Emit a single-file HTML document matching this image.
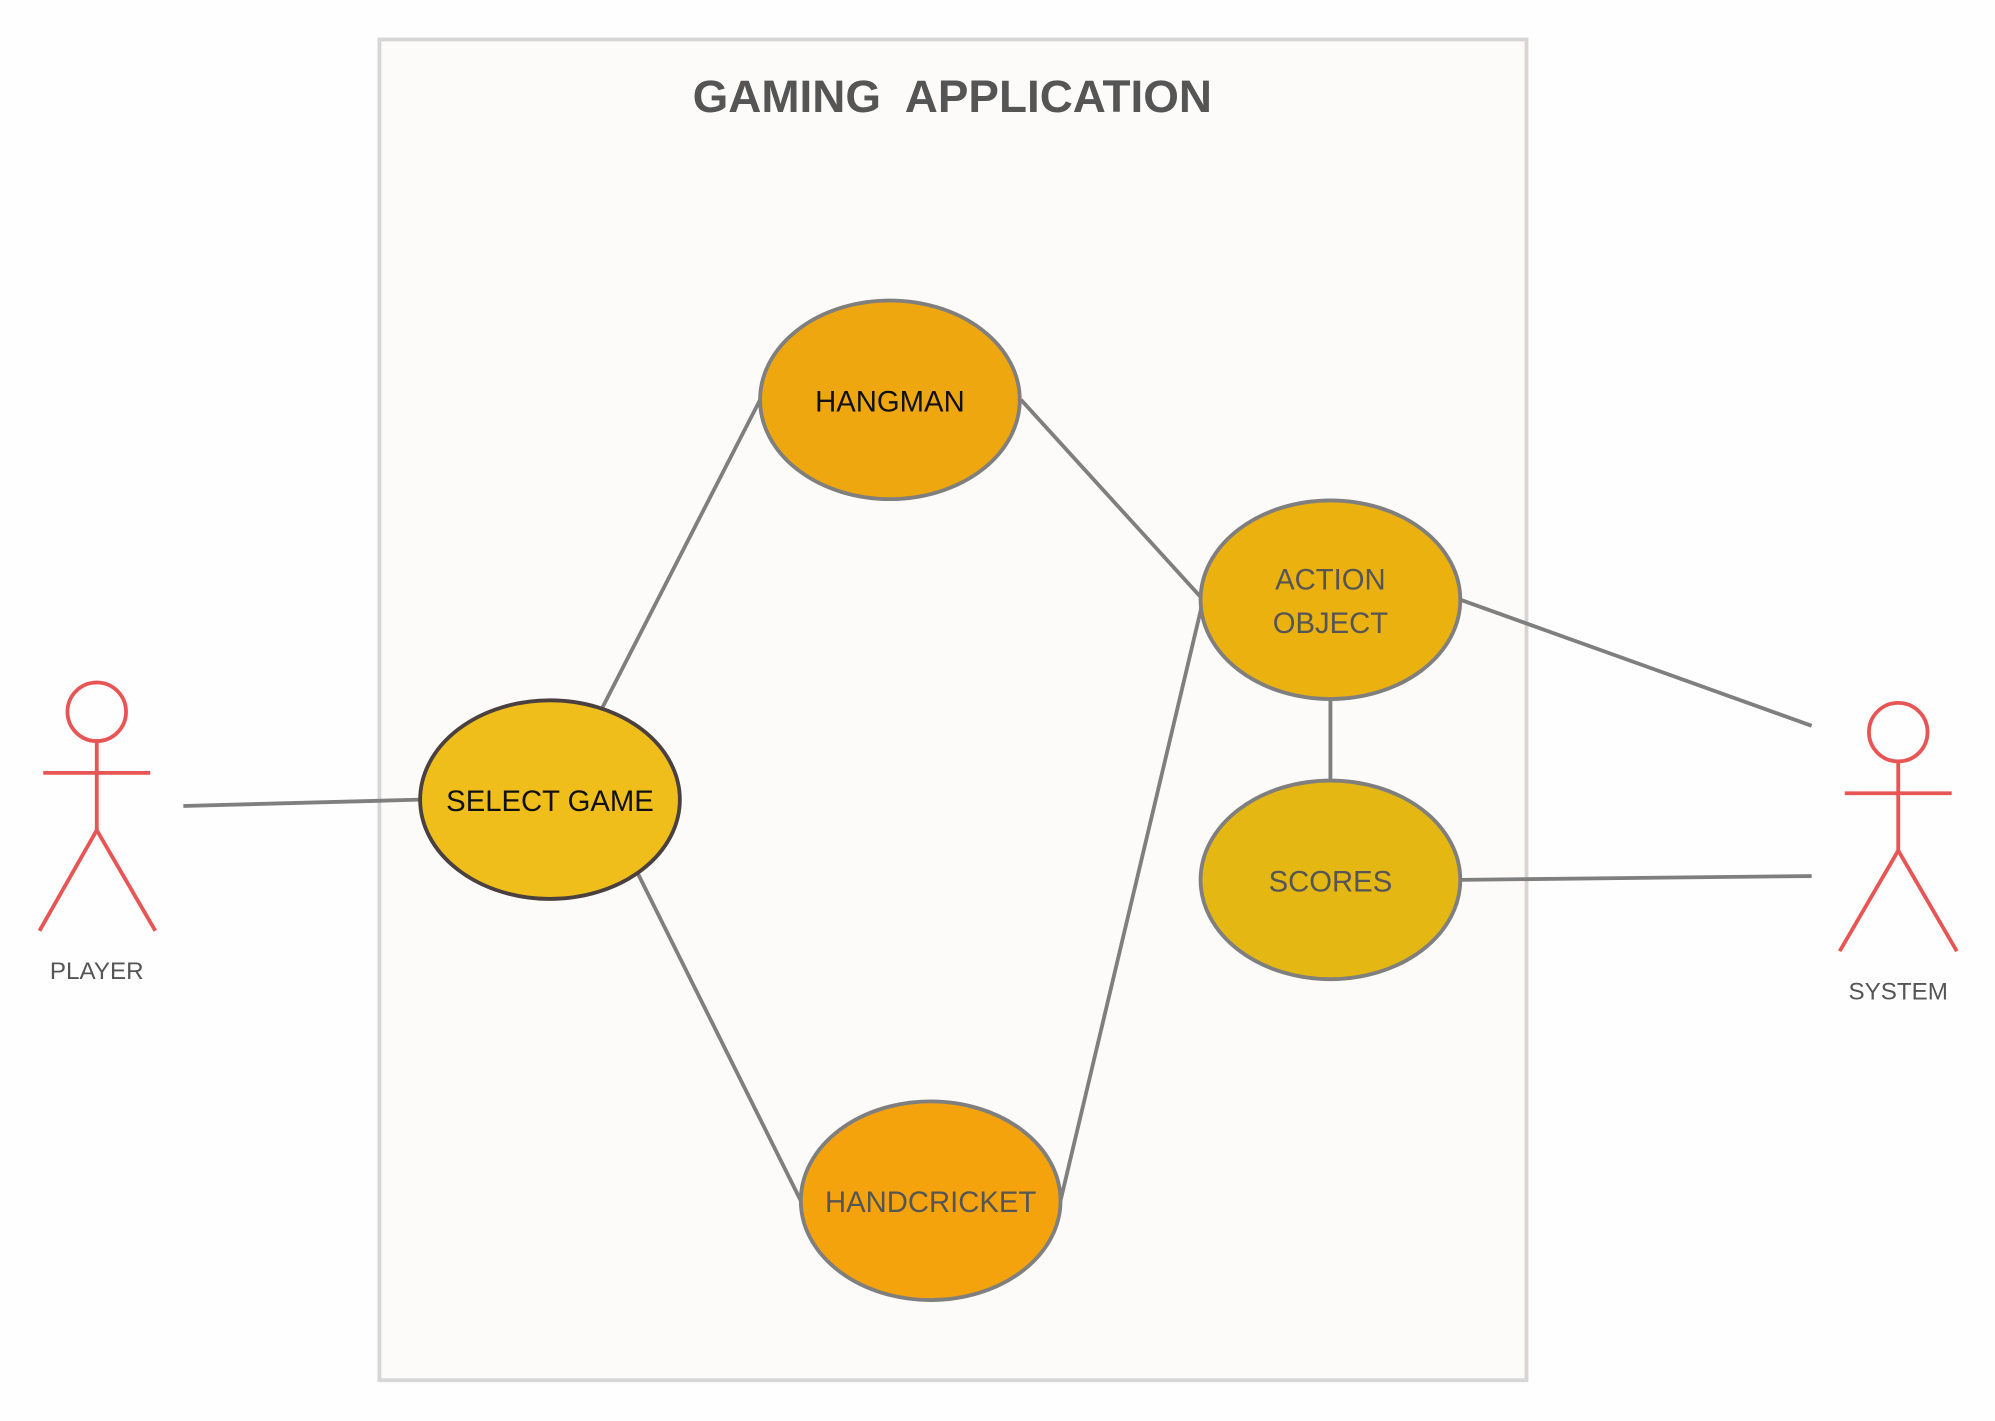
<!DOCTYPE html>
<html><head><meta charset="utf-8"><style>
html,body{margin:0;padding:0;background:#fff;}
svg{display:block;}
text{font-family:"Liberation Sans","DejaVu Sans",sans-serif;}
</style></head><body>
<svg width="1995" height="1421" viewBox="0 0 1567 1116" preserveAspectRatio="none" xmlns="http://www.w3.org/2000/svg">
<rect x="0" y="0" width="1567" height="1116" fill="#fefefe"/>
<rect x="298" y="31" width="901" height="1053" fill="#fcfbfa" stroke="#d6d6d6" stroke-width="3"/>
<text x="748" y="88" text-anchor="middle" font-size="36" font-weight="bold" fill="#555" xml:space="preserve">GAMING  APPLICATION</text>
<g stroke="#7f7f7f" stroke-width="3" fill="none">
<line x1="144" y1="633" x2="330" y2="628"/>
<line x1="473" y1="556" x2="597" y2="314"/>
<line x1="501" y1="686" x2="629" y2="943"/>
<line x1="802" y1="314" x2="945" y2="471"/>
<line x1="833" y1="943" x2="947" y2="463"/>
<line x1="1045" y1="549" x2="1045" y2="613"/>
<line x1="1147" y1="471" x2="1423" y2="570"/>
<line x1="1147" y1="691" x2="1423" y2="688"/>
</g>
<g stroke="#7f7f7f" stroke-width="3">
<ellipse cx="699" cy="314" rx="102" ry="78" fill="#eea70e"/>
<ellipse cx="432" cy="628" rx="102" ry="78" fill="#efbe1a" stroke="#4a4040"/>
<ellipse cx="1045" cy="471" rx="102" ry="78" fill="#ebb10f"/>
<ellipse cx="1045" cy="691" rx="102" ry="78" fill="#e5b712"/>
<ellipse cx="731" cy="943" rx="102" ry="78" fill="#f5a30d"/>
</g>
<g font-size="23" text-anchor="middle">
<text x="699" y="323" fill="#111">HANGMAN</text>
<text x="432" y="637" fill="#111">SELECT GAME</text>
<text x="1045" y="463" fill="#555">ACTION</text>
<text x="1045" y="497" fill="#555">OBJECT</text>
<text x="1045" y="700" fill="#555">SCORES</text>
<text x="731" y="952" fill="#555">HANDCRICKET</text>
</g>
<g stroke="#e85555" stroke-width="3" fill="none">
<circle cx="76" cy="559" r="23"/>
<line x1="76" y1="582" x2="76" y2="652"/>
<line x1="34" y1="607" x2="118" y2="607"/>
<polyline points="31,731 76,652 122,731"/>
<circle cx="1491" cy="575" r="23"/>
<line x1="1491" y1="598" x2="1491" y2="668"/>
<line x1="1449" y1="623" x2="1533" y2="623"/>
<polyline points="1445,747 1491,668 1537,747"/>
</g>
<text x="76" y="769" text-anchor="middle" font-size="19" fill="#555">PLAYER</text>
<text x="1491" y="785" text-anchor="middle" font-size="19" fill="#555">SYSTEM</text>
</svg>
</body></html>
